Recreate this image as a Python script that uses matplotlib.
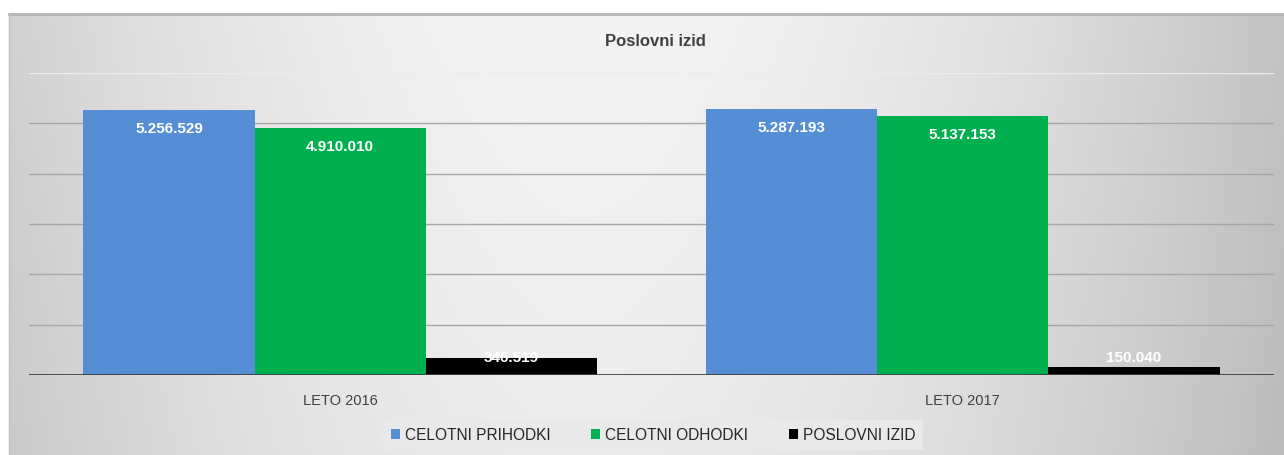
import numpy as np
import matplotlib
matplotlib.use('Agg')
import matplotlib.pyplot as plt

# Chart data
categories = ['LETO 2016', 'LETO 2017']
series_names = ['CELOTNI PRIHODKI', 'CELOTNI ODHODKI', 'POSLOVNI IZID']
prihodki = [5256529, 5287193]
odhodki = [4910010, 5137153]
izid = [346519, 150040]
labels_prihodki = ['5.256.529', '5.287.193']
labels_odhodki = ['4.910.010', '5.137.153']
labels_izid = ['346.519', '150.040']

colors = ['#558ed5', '#00b050', '#000000']

plt.rcParams['font.family'] = ['Liberation Sans', 'DejaVu Sans']

W, H = 1284, 456
fig = plt.figure(figsize=(W / 100, H / 100), dpi=100)
fig.patch.set_facecolor('white')

# Gradient background of the chart frame
bg = fig.add_axes([9 / W, 0, (W - 9) / W, (H - 15) / H])
xs = np.linspace(0, 1, 400)
ys = np.linspace(0, 1, 200)
X, Y = np.meshgrid(xs, ys)
val = 0.955 - 0.19 * np.abs((X - 0.45) / 0.55) ** 1.8 - 0.03 * Y
val = np.clip(val, 0.74, 0.97)
img = np.dstack([val, val, val])
bg.imshow(img, aspect='auto', extent=[0, 1, 1, 0])
bg.set_axis_off()
bg.plot([0, 1], [1.0, 1.0], color='#b4b4b4', lw=2, transform=bg.transAxes, clip_on=False)
bg.plot([0, 0], [0, 1], color='#c0c0c0', lw=1, transform=bg.transAxes, clip_on=False)

# Plot area
left, right, top, base = 29, 1274, 74, 376
ax = fig.add_axes([left / W, (H - base) / H, (right - left) / W, (base - top) / H])
ax.patch.set_alpha(0)

x = np.arange(len(categories))
width = 0.275
all_vals = [prihodki, odhodki, izid]
all_labels = [labels_prihodki, labels_odhodki, labels_izid]

ymax = 6000000
ax.set_ylim(0, ymax)
ax.set_xlim(-0.5, 1.5)
px = ymax / (base - top)

for i, (vals, labs) in enumerate(zip(all_vals, all_labels)):
    pos = x + (i - 1) * width
    ax.bar(pos, vals, width, color=colors[i], label=series_names[i], zorder=3)
    for p, v, t in zip(pos, vals, labs):
        ly = max(v - 18 * px, 18 * px)
        ax.text(p, ly, t, ha='center', va='center', color='white',
                fontsize=11, fontweight='bold', zorder=4)

for g in range(1000000, 6000001, 1000000):
    ax.axhline(g, color='#ececec' if g == ymax else '#a6a6a6', lw=1, zorder=1)
ax.axhline(0, color='#404040', lw=2, zorder=5)

for s in ax.spines.values():
    s.set_visible(False)
ax.set_yticks([])
ax.set_xticks(x)
ax.set_xticklabels(categories, color='#404040', fontsize=10.5)
ax.tick_params(axis='x', length=0, pad=13)

fig.text(655 / W, 1 - 41 / H, 'Poslovni izid', ha='center', va='center',
         fontsize=12, fontweight='bold', color='#404040')

leg = ax.legend(loc='center', bbox_to_anchor=(653 / W, 1 - 436 / H),
                bbox_transform=fig.transFigure, ncol=3, frameon=True,
                fontsize=11.2, handlelength=0.6, handleheight=0.6,
                handletextpad=0.3, columnspacing=2.6, borderpad=0.5)
leg.get_frame().set_facecolor('#e9e9e9')
leg.get_frame().set_edgecolor('none')
leg.get_frame().set_alpha(1)
leg.get_frame().set_boxstyle('square', pad=0)
for t in leg.get_texts():
    t.set_color('#262626')

fig.savefig('out.png', dpi=100)
